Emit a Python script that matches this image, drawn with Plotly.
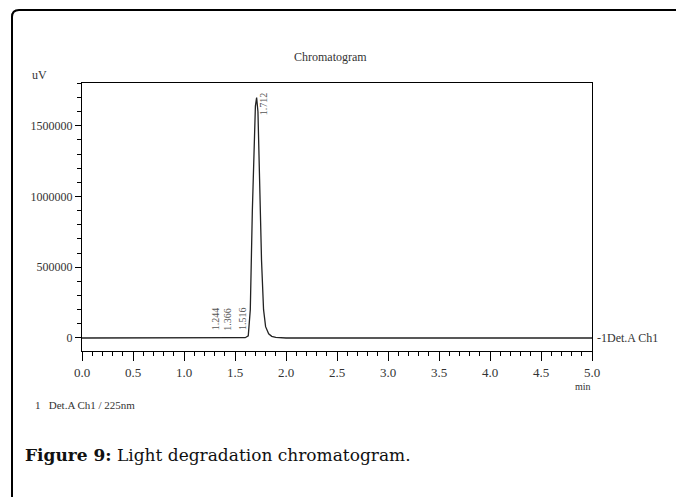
import plotly.graph_objects as go

# Retention time (min) and detector signal (uV)
time_min = [0.0, 1.20, 1.244, 1.27, 1.34, 1.366, 1.39, 1.49, 1.516, 1.54, 1.60, 1.63,
            1.65, 1.67, 1.69, 1.70, 1.712, 1.725, 1.74, 1.76, 1.78, 1.80, 1.83,
            1.86, 1.90, 2.0, 5.0]
signal_uv = [0, 0, 4000, 0, 0, 3000, 0, 0, 5000, 0, 2000, 15000,
             200000, 900000, 1450000, 1640000, 1700000, 1600000, 1150000, 550000,
             200000, 80000, 30000, 12000, 5000, 0, 0]

peak_times = [1.244, 1.366, 1.516, 1.712]
peak_labels = ["1.244", "1.366", "1.516", "1.712"]
peak_heights = [4000, 3000, 5000, 1700000]

x_ticks = [0.0, 0.5, 1.0, 1.5, 2.0, 2.5, 3.0, 3.5, 4.0, 4.5, 5.0]
y_ticks = [0, 500000, 1000000, 1500000]

serif = "Liberation Serif"
txt = "#333333"

fig = go.Figure()
fig.add_trace(go.Scatter(x=time_min, y=signal_uv, mode="lines",
                         line=dict(color="#222222", width=1.3), showlegend=False,
                         hoverinfo="skip"))

# peak labels
for t, lab, h in zip(peak_times, peak_labels, peak_heights):
    if h > 100000:
        fig.add_annotation(x=t, y=h, text=lab, textangle=-90, showarrow=False,
                           xanchor="left", yanchor="bottom", xshift=-1, yshift=-20,
                           font=dict(family=serif, size=10, color="#555555"))
    else:
        fig.add_annotation(x=t, y=40000, text=lab, textangle=-90, showarrow=False,
                           xanchor="left", yanchor="bottom", xshift=-1, yshift=0,
                           font=dict(family=serif, size=10, color="#555555"))

L, R, T, B = 82, 84, 83, 146
W, H = 676, 497
pw, ph = W - L - R, H - T - B

def px(xp):
    return (xp - L) / pw

def py(yp):
    return (H - B - yp) / ph

# rounded frame (top and left edges)
r = 7
path = (f"M {px(12)},{py(500)} L {px(12)},{py(10 + r)} "
        f"Q {px(12)},{py(10)} {px(12 + r)},{py(10)} L {px(680)},{py(10)}")
fig.add_shape(type="path", path=path, xref="paper", yref="paper",
              line=dict(color="black", width=2))

def note(xp, yp, text, size, xanchor="center", family=serif, color=txt):
    fig.add_annotation(x=px(xp), y=py(yp), xref="paper", yref="paper", text=text,
                       xanchor=xanchor, yanchor="middle", showarrow=False,
                       font=dict(family=family, size=size, color=color))

note(330, 57, "Chromatogram", 12)
note(30, 75, "uV", 12, xanchor="left")
note(583, 386, "min", 10)
note(33, 405, "1&nbsp;&nbsp;&nbsp;Det.A Ch1 / 225nm", 11, xanchor="left")
note(23, 455, "<b>Figure 9:</b> Light degradation chromatogram.", 17, xanchor="left",
     family="DejaVu Serif", color="#111111")
fig.add_annotation(x=1, y=0, xref="paper", yref="y", text="-1Det.A Ch1", xanchor="left",
                   yanchor="middle", xshift=3, showarrow=False,
                   font=dict(family=serif, size=12, color=txt))

fig.update_layout(
    width=W, height=H, margin=dict(l=L, r=R, t=T, b=B),
    paper_bgcolor="white", plot_bgcolor="white",
    xaxis=dict(range=[0, 5], tickvals=x_ticks, tickformat=".1f", showgrid=False,
               zeroline=False, showline=True, mirror=True, linecolor="black", linewidth=1,
               ticks="outside", ticklen=9, tickcolor="black",
               minor=dict(dtick=0.1, tick0=0, ticks="outside", ticklen=4, tickcolor="black"),
               tickfont=dict(family=serif, size=13, color=txt)),
    yaxis=dict(range=[-92000, 1803000], tickvals=y_ticks, showgrid=False, zeroline=False,
               showline=True, mirror=True, linecolor="black", linewidth=1,
               ticks="outside", ticklen=6, tickcolor="black",
               minor=dict(dtick=100000, tick0=0, ticks="outside", ticklen=4, tickcolor="black"),
               tickformat="d",
               tickfont=dict(family=serif, size=12, color=txt)),
)

fig.write_html("out.html")
